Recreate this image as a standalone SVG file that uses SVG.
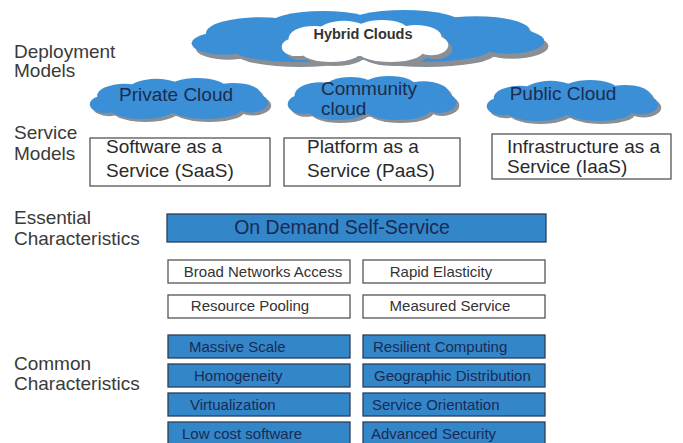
<svg xmlns="http://www.w3.org/2000/svg" xmlns:xlink="http://www.w3.org/1999/xlink" width="683" height="443" viewBox="0 0 683 443">
<style>
.lbl{font-family:"Liberation Sans",Arial,sans-serif;font-size:19px;fill:#3a3a3a}
.ct{font-family:"Liberation Sans",Arial,sans-serif;font-size:19px;fill:#1c2c4e}
.sm{font-family:"Liberation Sans",Arial,sans-serif;font-size:19px;fill:#2a2a2a}
.wb{fill:#fff;stroke:#555;stroke-width:1.3}
.bb{fill:#3386c8;stroke:#2a3f5a;stroke-width:1.3}
.wt{font-family:"Liberation Sans",Arial,sans-serif;font-size:15px;fill:#333;text-anchor:middle}
.bt{font-family:"Liberation Sans",Arial,sans-serif;font-size:15px;fill:#1a2a55}
.blue{fill:#3a8fd6}
.white{fill:#fff}
.shadow{fill:#8a8f96}
</style>
<defs>
<g id="cloud">
<ellipse cx="100" cy="25" rx="85" ry="18"/>
<ellipse cx="40" cy="22" rx="30" ry="15"/>
<ellipse cx="75" cy="14" rx="30" ry="13"/>
<ellipse cx="120" cy="13" rx="32" ry="13"/>
<ellipse cx="160" cy="20" rx="30" ry="14"/>
<ellipse cx="178" cy="30" rx="20" ry="12"/>
<ellipse cx="20" cy="32" rx="18" ry="11"/>
<ellipse cx="60" cy="38" rx="35" ry="12"/>
<ellipse cx="130" cy="38" rx="38" ry="12"/>
</g>
</defs>
<rect width="683" height="443" fill="#fff"/>

<g id="labels">
<text class="lbl" x="14" y="58">Deployment</text>
<text class="lbl" x="14" y="77">Models</text>
<text class="lbl" x="14" y="139">Service</text>
<text class="lbl" x="14" y="160">Models</text>
<text class="lbl" x="14" y="224">Essential</text>
<text class="lbl" x="14" y="245">Characteristics</text>
<text class="lbl" x="14" y="370">Common</text>
<text class="lbl" x="14" y="390">Characteristics</text>
</g>

<g id="hybrid-clouds">
<use xlink:href="#cloud" class="shadow" transform="translate(192,15) scale(1.8,1.04)"/>
<use xlink:href="#cloud" class="blue" transform="translate(188,10) scale(1.8,1.04)"/>
<use xlink:href="#cloud" class="shadow" transform="translate(284,24) scale(0.85,0.84)"/>
<use xlink:href="#cloud" class="white" transform="translate(280,20) scale(0.85,0.84)"/>
<text x="363" y="39" text-anchor="middle" font-family="'Liberation Sans',Arial,sans-serif" font-size="14.5" font-weight="bold" fill="#333">Hybrid Clouds</text>
</g>

<g id="private-cloud">
<use xlink:href="#cloud" class="shadow" transform="translate(91,81) scale(0.91,0.82)"/>
<use xlink:href="#cloud" class="blue" transform="translate(88,78) scale(0.91,0.82)"/>
<text class="ct" x="176" y="101" text-anchor="middle">Private Cloud</text>
</g>

<g id="community-cloud">
<use xlink:href="#cloud" class="shadow" transform="translate(289,79) scale(0.86,0.88)"/>
<use xlink:href="#cloud" class="blue" transform="translate(286,76) scale(0.86,0.88)"/>
<text class="ct" x="321" y="95">Community</text>
<text class="ct" x="321" y="115">cloud</text>
</g>

<g id="public-cloud">
<use xlink:href="#cloud" class="shadow" transform="translate(488,83) scale(0.875,0.82)"/>
<use xlink:href="#cloud" class="blue" transform="translate(485,80) scale(0.875,0.82)"/>
<text class="ct" x="563" y="100" text-anchor="middle">Public Cloud</text>
</g>

<g id="saas">
<rect class="wb" x="90" y="138" width="180" height="48"/>
<text class="sm" x="106" y="153">Software as a</text>
<text class="sm" x="106" y="177">Service (SaaS)</text>
</g>
<g id="paas">
<rect class="wb" x="284" y="138" width="176" height="48"/>
<text class="sm" x="307" y="153">Platform as a</text>
<text class="sm" x="307" y="177">Service (PaaS)</text>
</g>
<g id="iaas">
<rect class="wb" x="492" y="134" width="179" height="45"/>
<text class="sm" x="507" y="153">Infrastructure as a</text>
<text class="sm" x="507" y="173">Service (IaaS)</text>
</g>

<g id="on-demand">
<rect class="bb" x="167" y="214" width="379" height="28"/>
<text x="342" y="234" text-anchor="middle" font-family="'Liberation Sans',Arial,sans-serif" font-size="19.5" fill="#1a2a55">On Demand Self-Service</text>
</g>

<g id="broad-network">
<rect class="wb" x="168" y="260" width="182" height="23"/>
<text class="wt" x="263" y="277">Broad Networks Access</text>
</g>
<g id="rapid-elasticity">
<rect class="wb" x="363" y="260" width="182" height="23"/>
<text class="wt" x="441" y="277">Rapid Elasticity</text>
</g>
<g id="resource-pooling">
<rect class="wb" x="168" y="295" width="182" height="23"/>
<text class="wt" x="250" y="311">Resource Pooling</text>
</g>
<g id="measured-service">
<rect class="wb" x="363" y="295" width="182" height="23"/>
<text class="wt" x="450" y="311">Measured Service</text>
</g>

<g id="massive-scale">
<rect class="bb" x="168" y="335" width="182" height="23"/>
<text class="bt" x="189" y="352">Massive Scale</text>
</g>
<g id="resilient-computing">
<rect class="bb" x="363" y="335" width="182" height="23"/>
<text class="bt" x="373" y="352">Resilient Computing</text>
</g>
<g id="homogeneity">
<rect class="bb" x="168" y="364" width="182" height="23"/>
<text class="bt" x="194" y="381">Homogeneity</text>
</g>
<g id="geographic-distribution">
<rect class="bb" x="363" y="364" width="182" height="23"/>
<text class="bt" x="374" y="381">Geographic Distribution</text>
</g>
<g id="virtualization">
<rect class="bb" x="168" y="393" width="182" height="23"/>
<text class="bt" x="190" y="410">Virtualization</text>
</g>
<g id="service-orientation">
<rect class="bb" x="363" y="393" width="182" height="23"/>
<text class="bt" x="372" y="410">Service Orientation</text>
</g>
<g id="low-cost-software">
<rect class="bb" x="168" y="422" width="182" height="26"/>
<text class="bt" x="182" y="439">Low cost software</text>
</g>
<g id="advanced-security">
<rect class="bb" x="363" y="422" width="182" height="26"/>
<text class="bt" x="371" y="439">Advanced Security</text>
</g>

<g id="connectors"></g>
</svg>
